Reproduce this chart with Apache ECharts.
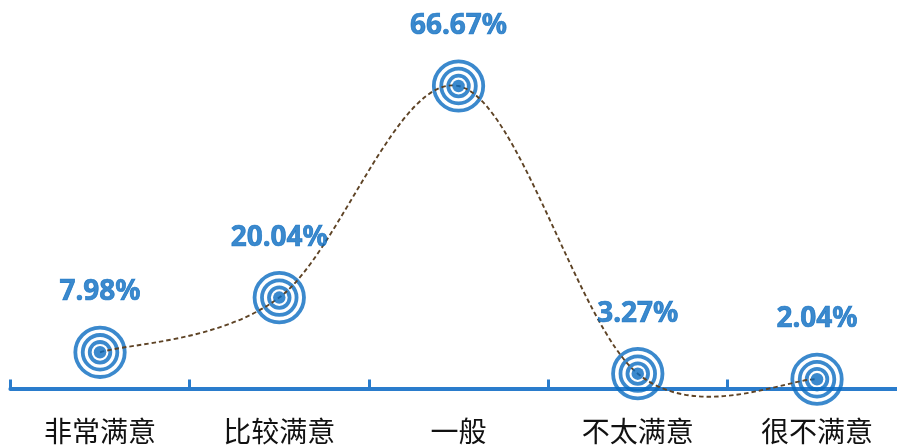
<!DOCTYPE html>
<html>
<head>
<meta charset="utf-8">
<script src="https://cdn.jsdelivr.net/npm/echarts@6/dist/echarts.min.js"></script>
<style>html,body{margin:0;padding:0;background:#fff}#c{width:897px;height:448px}</style>
</head>
<body>
<div id="c"></div>
<script>
const categories = ['非常满意', '比较满意', '一般', '不太满意', '很不满意'];
const values = [7.98, 20.04, 66.67, 3.27, 2.04];

const BLUE = '#0a6cc0';
const chart = echarts.init(document.getElementById('c'), null, {renderer: 'canvas'});
function ring(size, z) {
  return {
    type: 'scatter', data: values, symbol: 'circle', symbolSize: size, z: z,
    itemStyle: {color: 'rgba(0,0,0,0)', borderColor: BLUE, borderWidth: 3.8},
    silent: true
  };
}
// Cardinal (Catmull-Rom) spline through the data points, using the axis scales
function renderCurve(params, api) {
  if (params.dataIndex !== 0) return null;
  const pts = values.map((v, i) => api.coord([i, v]));
  const n = pts.length;
  let d = 'M' + pts[0][0] + ' ' + pts[0][1];
  for (let i = 0; i < n - 1; i++) {
    const p0 = pts[Math.max(i - 1, 0)], p1 = pts[i], p2 = pts[i + 1], p3 = pts[Math.min(i + 2, n - 1)];
    const c1 = [p1[0] + (p2[0] - p0[0]) / 6, p1[1] + (p2[1] - p0[1]) / 6];
    const c2 = [p2[0] - (p3[0] - p1[0]) / 6, p2[1] - (p3[1] - p1[1]) / 6];
    d += ' C' + c1[0] + ' ' + c1[1] + ' ' + c2[0] + ' ' + c2[1] + ' ' + p2[0] + ' ' + p2[1];
  }
  return {
    type: 'path',
    shape: {pathData: d},
    style: {fill: null, stroke: '#5e4325', lineWidth: 1.9, lineDash: [4.5, 3]}
  };
}
chart.setOption({
  animation: false,
  grid: {left: 10.4, width: 896.25, top: 70.9, height: 317.6, outerBoundsMode: 'none', containLabel: false},
  xAxis: {
    type: 'category', data: categories, boundaryGap: true,
    axisLine: {lineStyle: {color: '#2a7ccc', width: 4}},
    axisTick: {show: true, inside: true, length: 9, lineStyle: {color: '#2a7ccc', width: 3}},
    axisLabel: {color: '#111', fontSize: 28, margin: 29, fontFamily: 'Noto Sans CJK SC'}
  },
  yAxis: {type: 'value', min: 0, max: 70, show: false, splitLine: {show: false}},
  series: [
    ring(49.4, 2), ring(34.6, 2), ring(20.6, 2),
    {
      type: 'custom', data: values.map((v, i) => [i, v]), z: 3, clip: false, silent: true,
      encode: {x: 0, y: 1},
      renderItem: renderCurve
    },
    {
      type: 'scatter', data: values, symbol: 'circle', symbolSize: 12.5, z: 4,
      itemStyle: {color: BLUE},
      label: {
        show: true, position: 'inside', offset: [0, -60],
        formatter: p => p.value.toFixed(2) + '%',
        color: BLUE, fontSize: 28, fontWeight: 'bold', fontFamily: 'Noto Sans',
        textBorderColor: BLUE, textBorderWidth: 0.7
      }
    }
  ]
});
</script>
</body>
</html>
